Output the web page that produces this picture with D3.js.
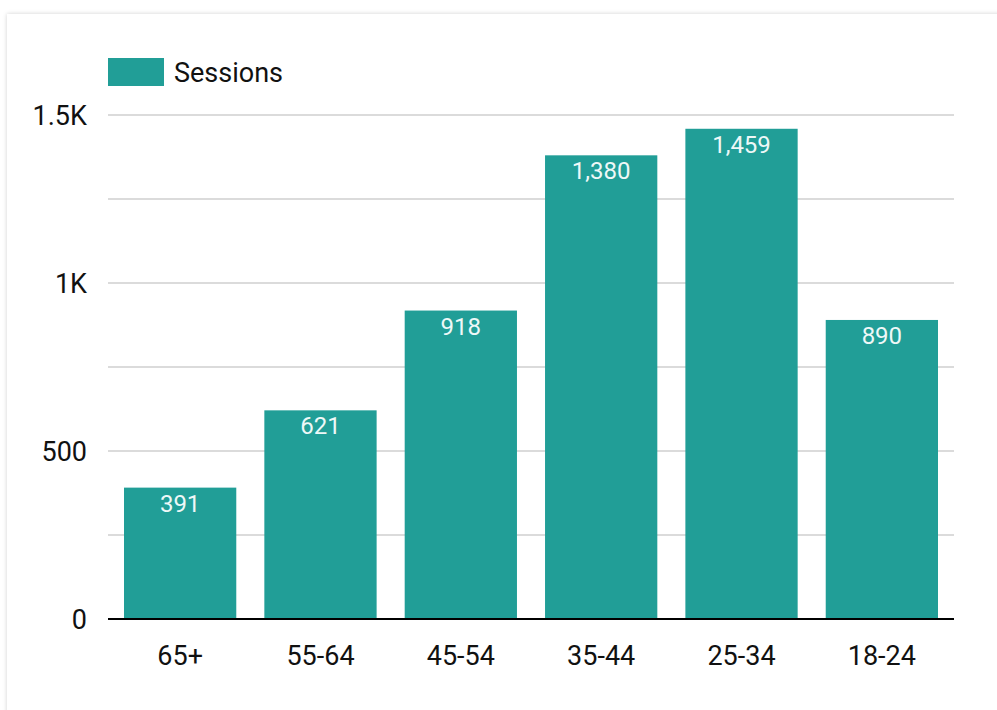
<!DOCTYPE html>
<html>
<head>
<meta charset="utf-8">
<script src="https://cdn.jsdelivr.net/npm/d3@7"></script>
<style>
  body { margin: 0; background: #fff; }
  svg { display: block; font-family: Roboto, sans-serif; }
</style>
</head>
<body>
<div id="chart"></div>
<script>
// Data
var ageGroups = ["65+", "55-64", "45-54", "35-44", "25-34", "18-24"];
var sessions = [391, 621, 918, 1380, 1459, 890];
var yTicks = [0, 500, 1000, 1500];
var yTickLabels = ["0", "500", "1K", "1.5K"];
var seriesName = "Sessions";

var width = 997, height = 710;
var margin = {top: 115, right: 43, bottom: 91, left: 108};
var barColor = "#219e97";

var svg = d3.select("#chart").append("svg")
    .attr("width", width)
    .attr("height", height);

// Card with soft shadow
var defs = svg.append("defs");
var filter = defs.append("filter").attr("id", "shadow")
    .attr("x", "-5%").attr("y", "-5%").attr("width", "110%").attr("height", "110%");
filter.append("feDropShadow")
    .attr("dx", 0).attr("dy", 0).attr("stdDeviation", 2)
    .attr("flood-color", "#000").attr("flood-opacity", 0.18);

svg.append("rect")
    .attr("x", 7).attr("y", 14)
    .attr("width", width + 20).attr("height", height + 20)
    .attr("fill", "#fff")
    .attr("filter", "url(#shadow)");

// Scales
var x = d3.scaleBand()
    .domain(ageGroups)
    .range([margin.left, width - margin.right])
    .paddingInner(0.2)
    .paddingOuter(0.114);

var y = d3.scaleLinear()
    .domain([0, 1500])
    .range([height - margin.bottom, margin.top]);

// Gridlines
svg.append("g")
    .selectAll("line")
    .data(d3.range(250, 1501, 250))
    .enter().append("line")
    .attr("x1", margin.left)
    .attr("x2", width - margin.right)
    .attr("y1", d => y(d))
    .attr("y2", d => y(d))
    .attr("stroke", "#cfcfcf")
    .attr("stroke-width", 1.6);

// Y axis labels
svg.append("g")
    .selectAll("text")
    .data(yTicks)
    .enter().append("text")
    .attr("x", 87)
    .attr("y", d => y(d))
    .attr("dy", "0.36em")
    .attr("text-anchor", "end")
    .attr("font-size", 27)
    .attr("fill", "#111")
    .text((d, i) => yTickLabels[i]);

// Bars
var data = ageGroups.map((g, i) => ({group: g, value: sessions[i]}));

svg.append("g")
    .selectAll("rect")
    .data(data)
    .enter().append("rect")
    .attr("x", d => x(d.group))
    .attr("y", d => y(d.value))
    .attr("width", x.bandwidth())
    .attr("height", d => y(0) - y(d.value))
    .attr("fill", barColor);

// Value labels
svg.append("g")
    .selectAll("text")
    .data(data)
    .enter().append("text")
    .attr("x", d => x(d.group) + x.bandwidth() / 2)
    .attr("y", d => y(d.value) + 24)
    .attr("text-anchor", "middle")
    .attr("font-size", 24)
    .attr("fill", "#eef8f7")
    .text(d => d3.format(",")(d.value));

// X axis baseline
svg.append("line")
    .attr("x1", margin.left)
    .attr("x2", width - margin.right)
    .attr("y1", y(0))
    .attr("y2", y(0))
    .attr("stroke", "#000")
    .attr("stroke-width", 2);

// X axis labels
svg.append("g")
    .selectAll("text")
    .data(ageGroups)
    .enter().append("text")
    .attr("x", d => x(d) + x.bandwidth() / 2)
    .attr("y", y(0) + 46)
    .attr("text-anchor", "middle")
    .attr("font-size", 27)
    .attr("fill", "#111")
    .text(d => d);

// Legend
svg.append("rect")
    .attr("x", 108).attr("y", 58)
    .attr("width", 56).attr("height", 28)
    .attr("fill", barColor);

svg.append("text")
    .attr("x", 174)
    .attr("y", 72)
    .attr("dy", "0.36em")
    .attr("font-size", 27)
    .attr("fill", "#111")
    .text(seriesName);
</script>
</body>
</html>
